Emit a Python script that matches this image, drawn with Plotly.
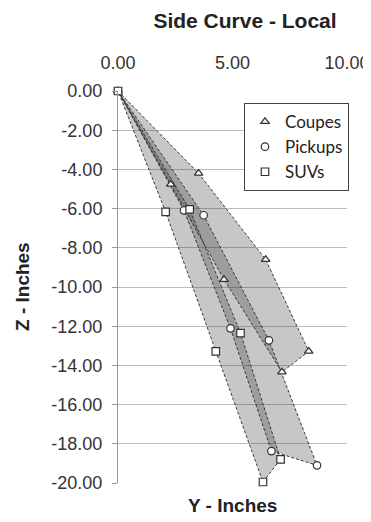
import plotly.graph_objects as go

# Data (Y = horizontal, Z = vertical)
series_names = ["Coupes", "Pickups", "SUVs"]
series_symbols = ["triangle-up", "circle", "square"]

coupes_outer_y = [0.0, 3.52, 6.45, 8.33]
coupes_outer_z = [0.0, -4.20, -8.60, -13.28]
coupes_inner_y = [0.0, 2.30, 4.63, 7.16]
coupes_inner_z = [0.0, -4.76, -9.62, -14.34]

pickups_outer_y = [0.0, 3.74, 6.59, 8.69]
pickups_outer_z = [0.0, -6.34, -12.72, -19.10]
pickups_inner_y = [0.0, 2.88, 4.91, 6.70]
pickups_inner_z = [0.0, -6.09, -12.11, -18.37]

suvs_outer_y = [0.0, 3.13, 5.35, 7.10]
suvs_outer_z = [0.0, -6.04, -12.35, -18.79]
suvs_inner_y = [0.0, 2.08, 4.27, 6.33]
suvs_inner_z = [0.0, -6.17, -13.28, -19.95]

x_ticks = [0, 5, 10]
y_ticks = [0, -2, -4, -6, -8, -10, -12, -14, -16, -18, -20]

series = [
    (coupes_outer_y, coupes_outer_z, coupes_inner_y, coupes_inner_z),
    (pickups_outer_y, pickups_outer_z, pickups_inner_y, pickups_inner_z),
    (suvs_outer_y, suvs_outer_z, suvs_inner_y, suvs_inner_z),
]

FONT = "Liberation Sans, Arial, sans-serif"

# page body has an 8px margin, so the figure sits at (8, 8) in the window
W, H = 363, 514
ML, MT, MR, MB = 110, 83, 24, 39

fig = go.Figure()

# filled bands
for (oy, oz, iy, iz) in series:
    py = list(oy) + list(iy[1:])[::-1] + [oy[0]]
    pz = list(oz) + list(iz[1:])[::-1] + [oz[0]]
    fig.add_trace(go.Scatter(
        x=py, y=pz, mode="lines", fill="toself",
        fillcolor="rgba(40,40,40,0.26)",
        line=dict(color="#3a3a3a", width=1, dash="3px,2px"),
        showlegend=False, hoverinfo="skip",
    ))

# markers
for name, sym, (oy, oz, iy, iz) in zip(series_names, series_symbols, series):
    fig.add_trace(go.Scatter(
        x=list(oy) + list(iy[1:]), y=list(oz) + list(iz[1:]),
        mode="markers", name=name,
        marker=dict(symbol=sym, size=7.5, color="white",
                    line=dict(color="#333333", width=1.2)),
        cliponaxis=False,
    ))

pw = W - ML - MR
ph = H - MT - MB

fig.update_layout(
    width=W, height=H,
    margin=dict(l=ML, r=MR, t=MT, b=MB),
    paper_bgcolor="white", plot_bgcolor="white",
    title=dict(text="<b>Side Curve - Local</b>", x=(245 - 8) / W, xref="container",
               xanchor="center", y=1 - (21 - 8) / H, yref="container", yanchor="middle",
               font=dict(family=FONT, size=21, color="#222")),
    font=dict(family=FONT, size=18, color="#333"),
    legend=dict(x=(244 - 8 - ML) / pw, y=1 - (103 - 8 - MT) / ph,
                xref="paper", yref="paper",
                xanchor="left", yanchor="top",
                bgcolor="white", bordercolor="#444", borderwidth=1,
                font=dict(family="Lato, Open Sans, sans-serif", size=17, color="#222"),
                tracegroupgap=0),
    showlegend=True,
)

fig.update_xaxes(
    range=[0, 10], side="top", tickvals=x_ticks,
    ticktext=[f"{v:.2f}" for v in x_ticks],
    showgrid=False, zeroline=False, showline=False, ticks="",
    ticklabelstandoff=17, automargin=False,
    tickfont=dict(family=FONT, size=18, color="#333"),
    title=None,
)
fig.update_yaxes(
    range=[-20, 0], tickvals=y_ticks,
    ticktext=[f"{v:.2f}" for v in y_ticks],
    showgrid=True, gridcolor="#bdbdbd", gridwidth=1,
    zeroline=False, showline=True, linecolor="#999", linewidth=1,
    ticks="outside", ticklen=5, tickcolor="#999",
    ticklabelstandoff=6, automargin=False,
    tickfont=dict(family=FONT, size=18, color="#333"),
    title=None,
)

fig.add_annotation(text="<b>Z - Inches</b>", xref="paper", yref="paper",
                   x=0, xanchor="center", xshift=-(ML - (22 - 8)), y=0.5, yanchor="middle",
                   textangle=-90, showarrow=False,
                   font=dict(family=FONT, size=19, color="#222"))
fig.add_annotation(text="<b>Y - Inches</b>", xref="paper", yref="paper",
                   x=0.5, xanchor="center", y=0, yanchor="middle", yshift=-22,
                   showarrow=False,
                   font=dict(family=FONT, size=19, color="#222"))

fig.write_html("out.html")
